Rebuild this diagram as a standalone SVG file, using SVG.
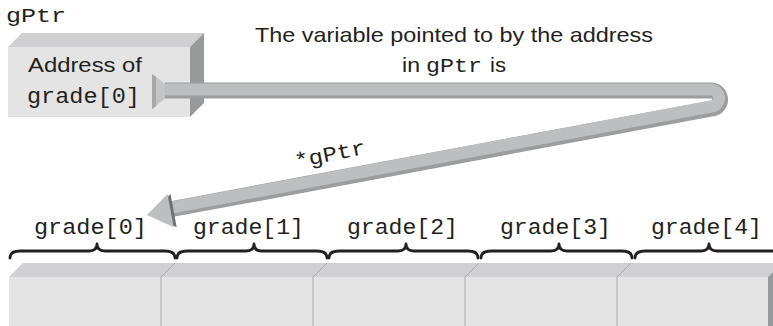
<svg xmlns="http://www.w3.org/2000/svg" width="773" height="326" viewBox="0 0 773 326">
<style>
.mono{font-family:"Liberation Mono","DejaVu Sans Mono",monospace;font-size:22px;fill:#231f20}
.sans{font-family:"Liberation Sans",Arial,sans-serif;font-size:21px;fill:#231f20}
.front{fill:#e4e4e5}
.top{fill:#d0d0d2}
.side{fill:#98999b}
.div{stroke:#a9aaac;stroke-width:1;fill:none}
.brace{fill:none;stroke:#231f20;stroke-width:2.8;stroke-linejoin:round;stroke-linecap:round}
</style>
<rect width="773" height="326" fill="#ffffff"/>

<g id="gPtr-label">
<text class="mono" x="6" y="22" textLength="60" lengthAdjust="spacingAndGlyphs" style="font-size:20px">gPtr</text>
</g>

<g id="gPtr-box">
<polygon class="top" points="8,47 22,33 204,33 190,47"/>
<polygon class="side" points="190,47 204,33 204,103 190,117"/>
<rect class="front" x="8" y="47" width="182" height="70"/>
<text class="sans" x="28" y="72" textLength="114" lengthAdjust="spacingAndGlyphs">Address of</text>
<text class="mono" x="27" y="103" textLength="113" lengthAdjust="spacingAndGlyphs">grade[0]</text>
</g>

<g id="caption">
<text class="sans" x="255" y="42" textLength="398" lengthAdjust="spacingAndGlyphs">The variable pointed to by the address</text>
<text class="sans" x="402" y="72" textLength="18" lengthAdjust="spacingAndGlyphs">in</text>
<text class="mono" x="426" y="72" textLength="56" lengthAdjust="spacingAndGlyphs" style="font-size:20px">gPtr</text>
<text class="sans" x="490" y="72" textLength="16" lengthAdjust="spacingAndGlyphs">is</text>
</g>

<g id="connectors">
<polygon points="152,74 167,85 167,97 152,109" fill="#c3c4c6"/>
<polygon points="152,74 156,77 156,106 152,109" fill="#a6a7a9"/>
<path d="M165,90.5 H710 A9,9 0 0 1 712,108.5 L172,209" fill="none" stroke="#9c9d9f" stroke-width="16" stroke-linejoin="round"/>
<path d="M165,89.5 H710 A8,8 0 0 1 711,106.5 L172,207.5" fill="none" stroke="#bdbec0" stroke-width="12" stroke-linejoin="round"/>
<polygon points="150,215 170.5,193.9 176.7,227.3" fill="#6f7072"/>
<polygon points="147,215 167.5,193.9 169.2,203.2 172,218 173.7,227.3" fill="#bdbec0"/>
<text class="mono" x="0" y="0" textLength="72" lengthAdjust="spacingAndGlyphs" transform="translate(296,168) rotate(-11.5)" style="font-size:21px">*gPtr</text>
</g>

<g id="grade-array">
<polygon class="top" points="9,277 23,263 787,263 768,277"/>
<polygon class="side" points="768,277 782,263 782,326 768,326"/>
<rect class="front" x="9" y="277" width="759" height="49"/>
<path class="div" d="M161,326 V277 L175,263 M313,326 V277 L327,263 M465,326 V277 L479,263 M617,326 V277 L631,263"/>
</g>

<g id="grade0">
<text class="mono" x="34" y="234" textLength="113" lengthAdjust="spacingAndGlyphs">grade[0]</text>
<path class="brace" d="M10,258 Q10,251 20,251 L89,251 Q97,251 97,244 Q97,251 105,251 L165,251 Q175,251 175,258"/>
</g>
<g id="grade1">
<text class="mono" x="193" y="234" textLength="111" lengthAdjust="spacingAndGlyphs">grade[1]</text>
<path class="brace" d="M177,258 Q177,251 187,251 L246,251 Q254,251 254,244 Q254,251 262,251 L317,251 Q327,251 327,258"/>
</g>
<g id="grade2">
<text class="mono" x="347" y="234" textLength="111" lengthAdjust="spacingAndGlyphs">grade[2]</text>
<path class="brace" d="M329,258 Q329,251 339,251 L398,251 Q406,251 406,244 Q406,251 414,251 L468,251 Q478,251 478,258"/>
</g>
<g id="grade3">
<text class="mono" x="500" y="234" textLength="111" lengthAdjust="spacingAndGlyphs">grade[3]</text>
<path class="brace" d="M481,258 Q481,251 491,251 L551,251 Q559,251 559,244 Q559,251 567,251 L622,251 Q632,251 632,258"/>
</g>
<g id="grade4">
<text class="mono" x="651" y="234" textLength="111" lengthAdjust="spacingAndGlyphs">grade[4]</text>
<path class="brace" d="M635,258 Q635,251 645,251 L701,251 Q709,251 709,244 Q709,251 717,251 L776,251 Q786,251 786,258"/>
</g>
</svg>
